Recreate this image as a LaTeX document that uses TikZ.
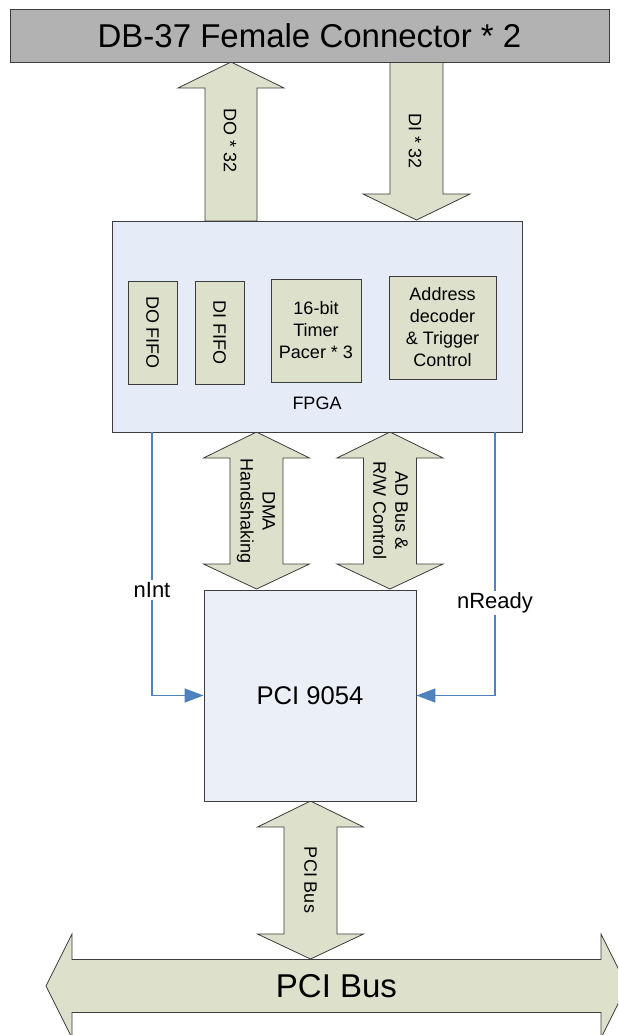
\documentclass[tikz,border=0pt]{standalone}
\usepackage{fontspec}
\setmainfont{Liberation Sans}
\usetikzlibrary{arrows.meta}
\definecolor{boxgray}{RGB}{178,178,178}
\definecolor{arrowfill}{RGB}{221,224,203}
\definecolor{fpgafill}{RGB}{230,236,247}
\definecolor{pcifill}{RGB}{234,239,248}
\definecolor{sigblue}{RGB}{79,129,189}
\definecolor{edgegray}{RGB}{60,60,60}
\tikzset{
  blk/.style={draw=edgegray, line width=0.9pt, inner sep=0pt},
  barrow/.style={draw=edgegray, line width=0.8pt, fill=arrowfill, line join=miter},
  lbl/.style={font=\fontsize{18}{22}\selectfont, align=center, inner sep=0pt},
  sig/.style={draw=sigblue, line width=1.6pt, -{Triangle[length=19pt,width=14pt]}},
  siglbl/.style={font=\fontsize{22}{26}\selectfont, fill=white, inner sep=2pt},
}
\begin{document}
\begin{tikzpicture}[x=1pt,y=-1pt]
\useasboundingbox (0,0) rectangle (618,1035);
\fill[white] (0,0) rectangle (618,1035);
\clip (0,0) rectangle (618,1035);

% ---- block arrows ----
% DO (up)
\draw[barrow] (205,221) -- (205,88) -- (178,88) -- (231,62) -- (284,88) -- (257,88) -- (257,221) -- cycle;
\node[lbl, rotate=-90] (dolbl) at (230,141) {DO * 32};
% DI (down)
\draw[barrow] (390,62) -- (390,194) -- (363,194) -- (416.5,220) -- (470,194) -- (443,194) -- (443,62) -- cycle;
\node[lbl, rotate=-90] (dilbl) at (415,141) {DI * 32};
% DMA (double)
\draw[barrow] (256.5,432) -- (309.5,458) -- (283,458) -- (283,564) -- (309.5,564) -- (256.5,589)
  -- (203.5,564) -- (230,564) -- (230,458) -- (203.5,458) -- cycle;
\node[lbl, rotate=-90] (dmalbl) at (256,511) {DMA\\Handshaking};
% AD bus (double)
\draw[barrow] (390,432) -- (443,458) -- (416.5,458) -- (416.5,564) -- (443,564) -- (390,589)
  -- (337,564) -- (363.5,564) -- (363.5,458) -- (337,458) -- cycle;
\node[lbl, rotate=-90] (adlbl) at (390.5,511) {AD Bus \&\\R/W Control};
% PCI bus small (double)
\draw[barrow] (310.5,801) -- (363.5,827) -- (337,827) -- (337,934) -- (363.5,934) -- (310.5,959)
  -- (257.5,934) -- (284,934) -- (284,827) -- (257.5,827) -- cycle;
\node[lbl, rotate=-90] (pcilbl) at (310.5,880) {PCI Bus};
% PCI bus big (horizontal double)
\draw[barrow] (46,986) -- (72,934) -- (72,959.5) -- (601,959.5) -- (601,934) -- (627,986)
  -- (601,1038) -- (601,1012.5) -- (72,1012.5) -- (72,1038) -- cycle;
\node[font=\fontsize{33}{40}\selectfont, inner sep=0pt] (pcibus) at (336.5,986) {PCI Bus};

% ---- boxes ----
\node[blk, fill=boxgray, minimum width=599pt, minimum height=53pt,
      font=\fontsize{33}{40}\selectfont] (db) at (309.5,35.5) {DB-37 Female Connector * 2};
\node[blk, fill=fpgafill, minimum width=410pt, minimum height=211pt] (fpga) at (317,326.5) {};
\node[lbl] (fpgalbl) at (317,403) {FPGA};
\node[blk, fill=arrowfill, minimum width=49pt, minimum height=103pt] (dofifo) at (152.5,332.5) {};
\node[lbl, rotate=-90] at (dofifo.center) {DO FIFO};
\node[blk, fill=arrowfill, minimum width=49pt, minimum height=103pt] (dififo) at (219.5,332.5) {};
\node[lbl, rotate=-90] at (dififo.center) {DI FIFO};
\node[blk, fill=arrowfill, minimum width=90pt, minimum height=103pt, lbl] (timer) at (316,330.5)
  {16-bit\\Timer\\Pacer * 3};
\node[blk, fill=arrowfill, minimum width=107pt, minimum height=103pt, lbl] (addr) at (442.5,327.5)
  {Address\\decoder\\\& Trigger\\Control};
\node[blk, fill=pcifill, minimum width=212pt, minimum height=211pt,
      font=\fontsize{25.6}{30}\selectfont] (pci) at (310,695.5) {PCI 9054};

% ---- signal lines ----
\coordinate (nx) at (152,0);
\coordinate (rx) at (495,0);
\draw[sig] (fpga.south -| nx) -- (nx |- pci.west) -- (pci.west);
\draw[sig] (fpga.south -| rx) -- (rx |- pci.east) -- (pci.east);
\node[siglbl] (nint) at (152,590) {nInt};
\node[siglbl] (nready) at (495,603) {nReady};
\end{tikzpicture}
\end{document}
